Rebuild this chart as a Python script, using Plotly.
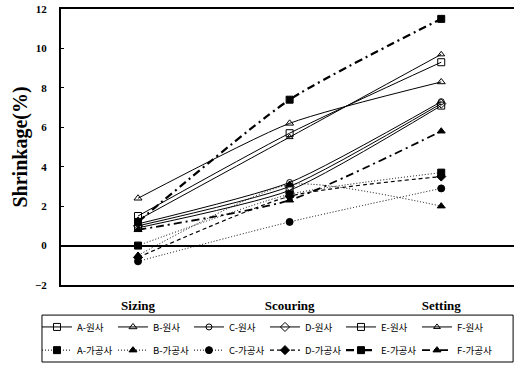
import plotly.graph_objects as go

categories = ["Sizing", "Scouring", "Setting"]

series_names = ["A-원사", "B-원사", "C-원사", "D-원사", "E-원사", "F-원사",
                "A-가공사", "B-가공사", "C-가공사", "D-가공사", "E-가공사", "F-가공사"]

a_yarn = [1.5, 5.7, 9.3]
b_yarn = [2.4, 6.2, 8.3]
c_yarn = [1.1, 3.2, 7.3]
d_yarn = [1.0, 3.0, 7.2]
e_yarn = [0.9, 2.8, 7.1]
f_yarn = [1.3, 5.5, 9.7]
a_proc = [0.0, 2.6, 3.7]
b_proc = [-0.5, 3.1, 2.0]
c_proc = [-0.8, 1.2, 2.9]
d_proc = [-0.6, 2.5, 3.5]
e_proc = [1.2, 7.4, 11.5]
f_proc = [0.8, 2.3, 5.8]

values = [a_yarn, b_yarn, c_yarn, d_yarn, e_yarn, f_yarn,
          a_proc, b_proc, c_proc, d_proc, e_proc, f_proc]

y_ticks = [-2, 0, 2, 4, 6, 8, 10, 12]

styles = [
    dict(sym="square-open", dash="solid", w=1, ms=7),
    dict(sym="triangle-up-open", dash="solid", w=1, ms=7),
    dict(sym="circle-open", dash="solid", w=1, ms=6),
    dict(sym="diamond-open", dash="solid", w=1, ms=7),
    dict(sym="square-open", dash="solid", w=1, ms=7),
    dict(sym="triangle-up-open", dash="solid", w=1, ms=6),
    dict(sym="square", dash="1px,2px", w=1, ms=7),
    dict(sym="triangle-up", dash="1px,2px", w=1, ms=7),
    dict(sym="circle", dash="1px,2px", w=1, ms=7),
    dict(sym="diamond", dash="4px,3px", w=1.2, ms=7),
    dict(sym="square", dash="8px,4px,2px,4px", w=2.2, ms=7),
    dict(sym="triangle-up", dash="8px,4px,2px,4px", w=1.8, ms=7),
]

fig = go.Figure()
for i, (name, vals, st) in enumerate(zip(series_names, values, styles)):
    fig.add_trace(go.Scatter(
        x=list(range(len(categories))), y=vals, name=name,
        mode="lines+markers",
        legend="legend" if i < 6 else "legend2",
        line=dict(color="black", width=st["w"], dash=st["dash"], shape="spline", smoothing=0.6),
        marker=dict(symbol=st["sym"], size=st["ms"], color="black",
                    line=dict(color="black", width=1)),
    ))

leg_common = dict(
    orientation="h", x=-0.053, xanchor="left", yanchor="middle",
    borderwidth=0, bgcolor="rgba(0,0,0,0)",
    font=dict(family="Noto Sans CJK KR", size=9.5, color="black"),
    entrywidth=31, itemwidth=30, tracegroupgap=0,
)

fig.update_layout(
    width=514, height=365,
    margin=dict(l=61, r=0, t=9, b=80, autoexpand=False),
    paper_bgcolor="white", plot_bgcolor="white",
    font=dict(family="Liberation Serif", color="black"),
    showlegend=True,
    legend=dict(leg_common, y=-0.152),
    legend2=dict(leg_common, y=-0.236),
    shapes=[dict(type="rect", xref="paper", yref="paper",
                 x0=-0.042, x1=0.998, y0=-0.279, y1=-0.109,
                 line=dict(color="black", width=1))],
)
fig.update_xaxes(
    range=[-0.508, 2.48],
    tickmode="array", tickvals=list(range(len(categories))), ticktext=categories,
    tickfont=dict(family="Liberation Serif", size=13, color="black", weight="bold"),
    ticklabelstandoff=7,
    showline=True, linecolor="black", linewidth=2, mirror=True,
    showgrid=False, zeroline=False, ticks="",
)
fig.update_yaxes(
    range=[-2, 12], tickvals=y_ticks,
    tickfont=dict(family="Liberation Serif", size=11, color="black", weight="bold"),
    ticklabelstandoff=10,
    title=dict(text="Shrinkage(%)", font=dict(family="Liberation Serif", size=20, color="black", weight="bold"), standoff=2),
    showline=True, linecolor="black", linewidth=2,
    showgrid=False, zeroline=True, zerolinecolor="black", zerolinewidth=1.5,
    ticks="inside", ticklen=3, tickcolor="black",
)

fig.write_html("out.html", config={"displayModeBar": False},
               post_script="document.body.style.margin='0';")
